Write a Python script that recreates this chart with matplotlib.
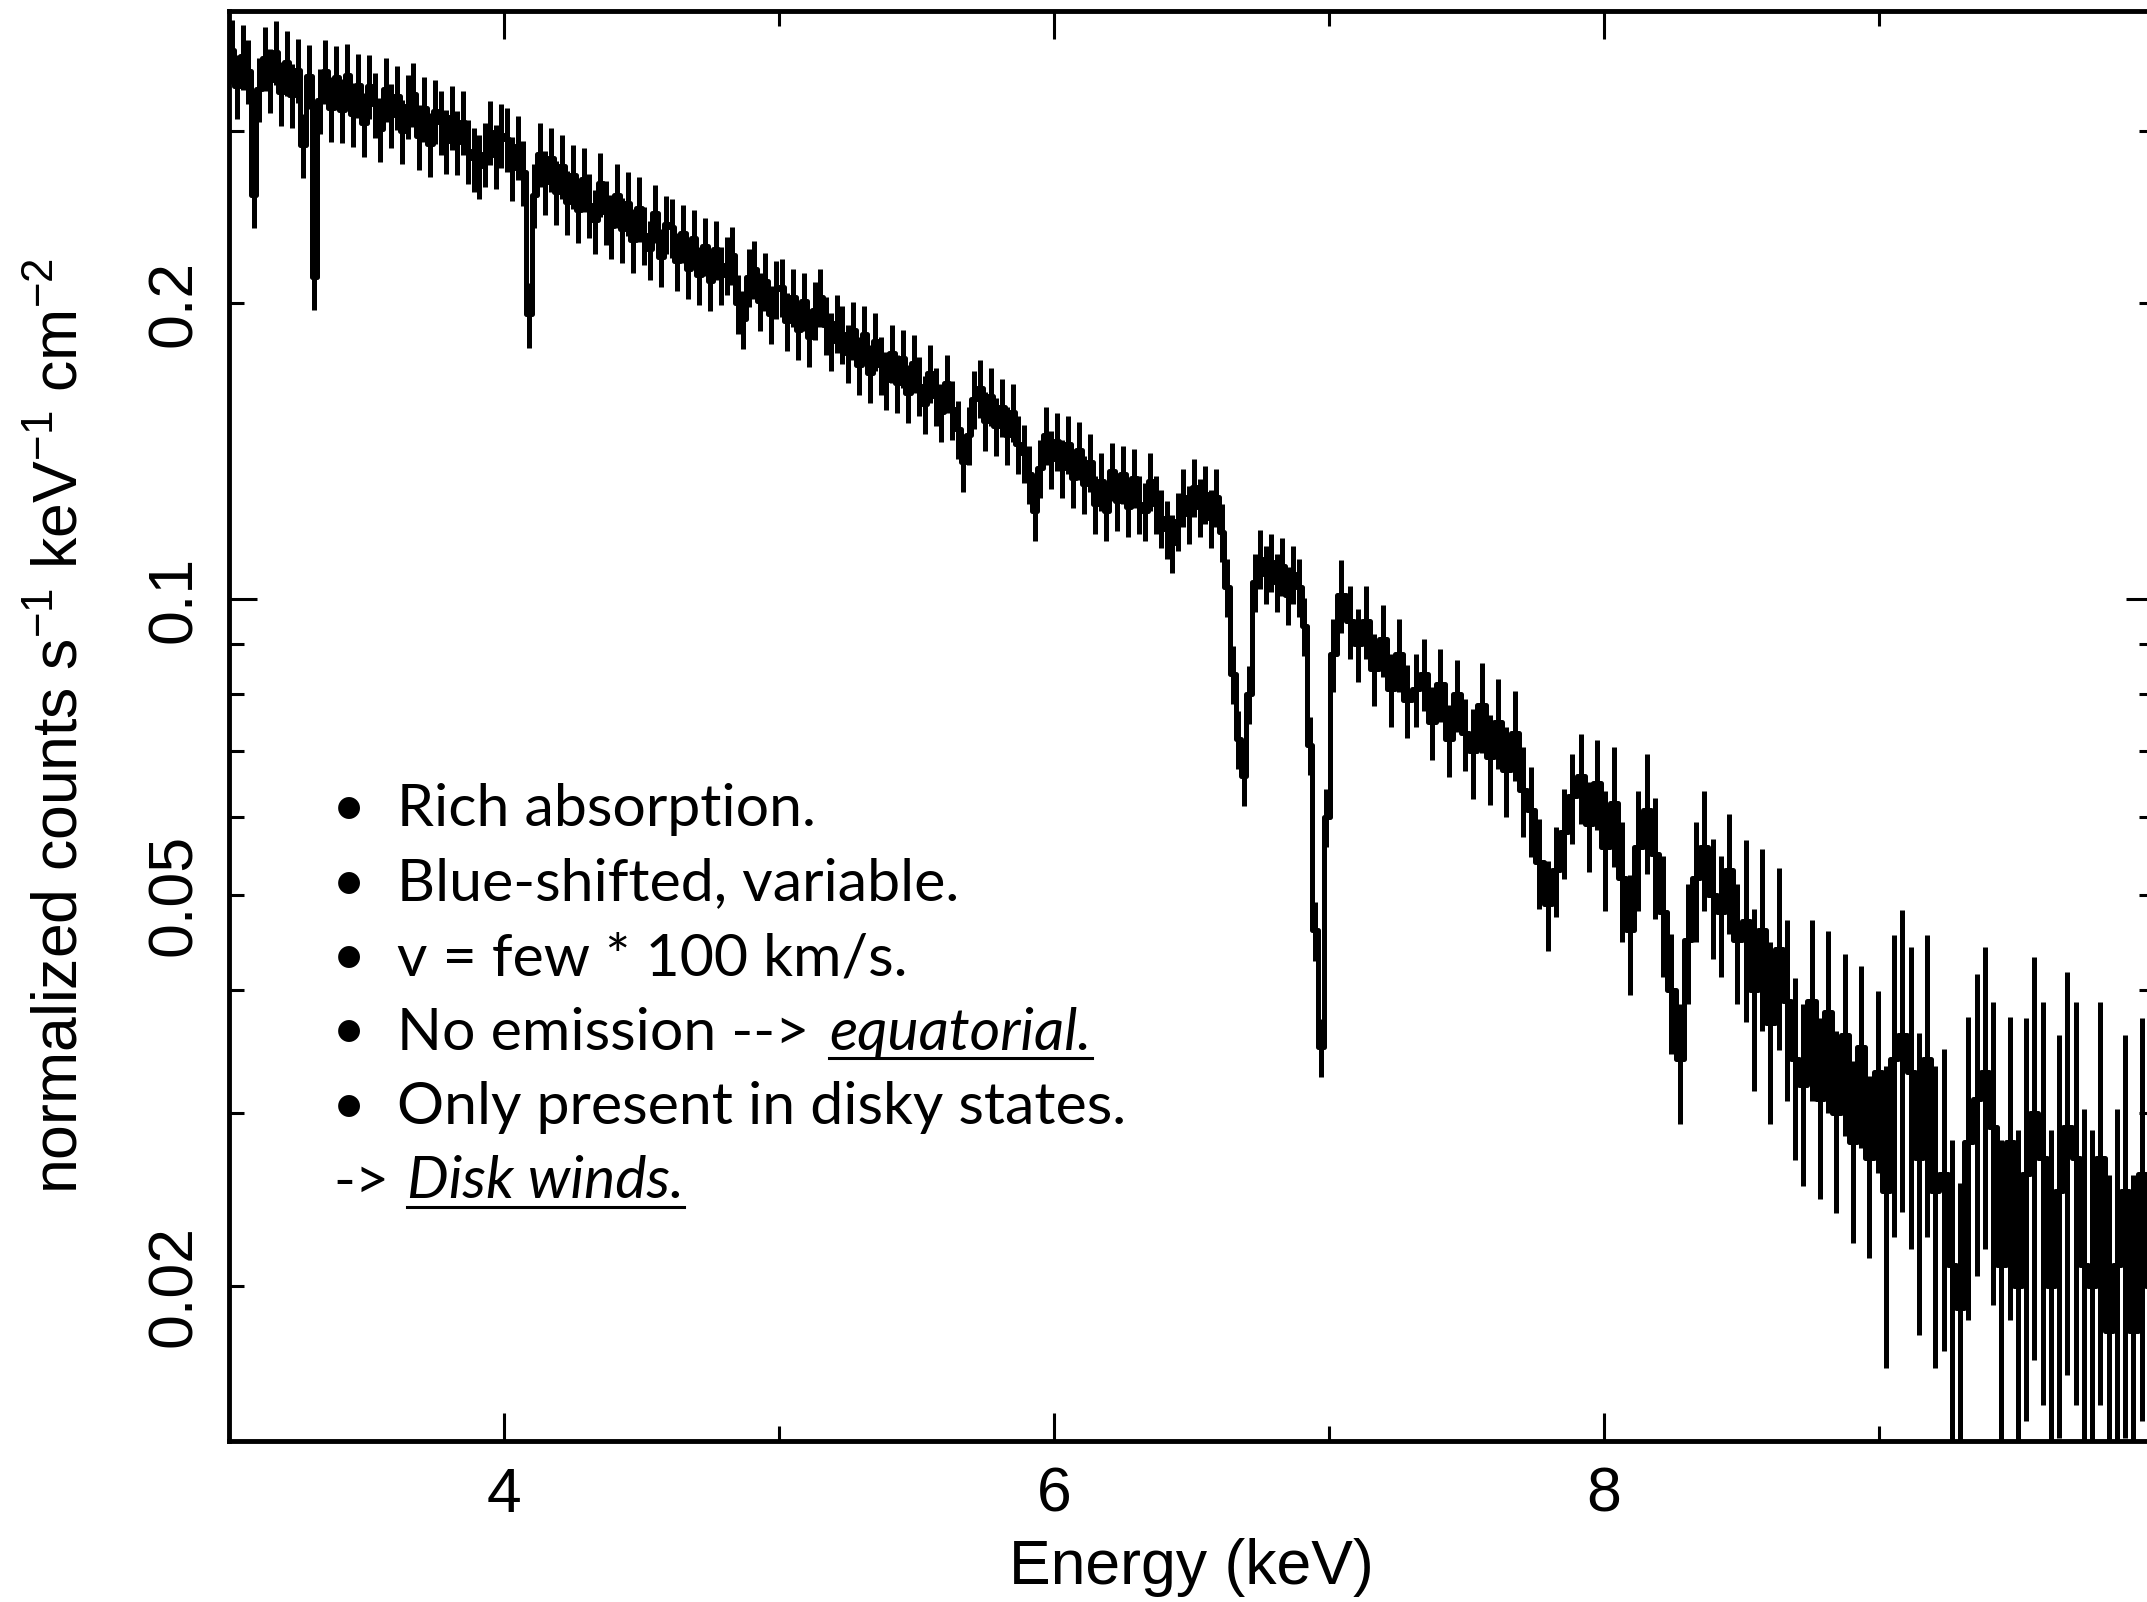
import numpy as np
import matplotlib
matplotlib.use("Agg")
import matplotlib.pyplot as plt
from matplotlib.lines import Line2D

plt.rcParams["font.family"] = ["Liberation Sans", "DejaVu Sans"]
plt.rcParams["mathtext.fontset"] = "custom"
plt.rcParams["mathtext.rm"] = "Liberation Sans"
plt.rcParams["mathtext.it"] = "Liberation Sans:italic"

# ---- spectrum: 3-7 keV in 0.02 keV bins ----
energy_lo = np.linspace(3.01, 6.99, 200)
flux_lo = [
    0.362, 0.333, 0.357, 0.345, 0.258, 0.331, 0.356, 0.338, 0.361, 0.328,
    0.352, 0.326, 0.346, 0.290, 0.341, 0.213, 0.322, 0.345, 0.316, 0.340,
    0.315, 0.342, 0.312, 0.334, 0.305, 0.333, 0.319, 0.301, 0.331, 0.311,
    0.325, 0.300, 0.318, 0.327, 0.296, 0.316, 0.291, 0.314, 0.306, 0.293,
    0.310, 0.292, 0.306, 0.286, 0.281, 0.276, 0.284, 0.299, 0.283, 0.297,
    0.294, 0.275, 0.289, 0.272, 0.195, 0.258, 0.284, 0.266, 0.281, 0.260,
    0.276, 0.254, 0.270, 0.249, 0.268, 0.252, 0.243, 0.265, 0.248, 0.240,
    0.258, 0.238, 0.253, 0.232, 0.250, 0.235, 0.227, 0.247, 0.223, 0.241,
    0.239, 0.221, 0.236, 0.217, 0.233, 0.214, 0.229, 0.211, 0.227, 0.214,
    0.219, 0.224, 0.200, 0.193, 0.213, 0.217, 0.201, 0.211, 0.195, 0.207,
    0.208, 0.192, 0.203, 0.188, 0.201, 0.185, 0.197, 0.203, 0.190, 0.183,
    0.191, 0.186, 0.178, 0.188, 0.173, 0.186, 0.170, 0.183, 0.173, 0.167,
    0.178, 0.166, 0.176, 0.162, 0.174, 0.165, 0.158, 0.170, 0.161, 0.155,
    0.166, 0.156, 0.149, 0.138, 0.147, 0.160, 0.164, 0.152, 0.161, 0.150,
    0.157, 0.147, 0.155, 0.144, 0.141, 0.134, 0.123, 0.136, 0.147, 0.139,
    0.145, 0.136, 0.144, 0.133, 0.142, 0.131, 0.138, 0.125, 0.132, 0.123,
    0.135, 0.126, 0.134, 0.124, 0.133, 0.125, 0.123, 0.132, 0.125, 0.121,
    0.118, 0.114, 0.120, 0.127, 0.122, 0.130, 0.124, 0.128, 0.121, 0.127,
    0.117, 0.103, 0.084, 0.072, 0.066, 0.080, 0.104, 0.110, 0.106, 0.109,
    0.104, 0.108, 0.101, 0.106, 0.103, 0.094, 0.071, 0.046, 0.035, 0.060,
]

# ---- 7-10 keV in 0.03 keV bins ----
energy_hi = np.linspace(7.015, 9.985, 100)
flux_hi = [
    0.088, 0.101, 0.095, 0.090, 0.095, 0.085, 0.091, 0.081, 0.088, 0.079,
    0.081, 0.084, 0.075, 0.082, 0.072, 0.080, 0.073, 0.070, 0.078, 0.069,
    0.075, 0.067, 0.073, 0.064, 0.061, 0.054, 0.049, 0.053, 0.058, 0.063,
    0.066, 0.059, 0.065, 0.056, 0.062, 0.052, 0.046, 0.056, 0.061, 0.055,
    0.048, 0.040, 0.034, 0.045, 0.052, 0.056, 0.050, 0.048, 0.053, 0.045,
    0.047, 0.040, 0.046, 0.037, 0.044, 0.039, 0.034, 0.032, 0.039, 0.031,
    0.038, 0.030, 0.036, 0.028, 0.035, 0.027, 0.033, 0.025, 0.034, 0.036,
    0.033, 0.027, 0.034, 0.025, 0.026, 0.021, 0.019, 0.028, 0.031, 0.033,
    0.029, 0.021, 0.028, 0.020, 0.026, 0.030, 0.027, 0.020, 0.025, 0.029,
    0.027, 0.021, 0.020, 0.027, 0.018, 0.021, 0.025, 0.018, 0.026, 0.020,
]

# fractional 1-sigma error, per 0.5 keV chunk starting at each edge
err_edges = [3.0, 3.5, 4.0, 4.5, 5.0, 5.5, 6.0, 6.5, 7.0, 7.5, 8.0, 8.5, 9.0, 9.5]
err_frac = [0.075, 0.075, 0.075, 0.068, 0.068, 0.068, 0.068, 0.068,
            0.085, 0.105, 0.140, 0.210, 0.340, 0.440]

notes = [
    "Rich absorption.",
    "Blue-shifted, variable.",
    "v = few * 100 km/s.",
    "No emission -->",
    "Only present in disky states.",
]
note_emph = {3: "equatorial."}
conclusion = ("->", "Disk winds.")

energy = np.concatenate([energy_lo, energy_hi])
flux = np.array(flux_lo + flux_hi)
chunk = np.searchsorted(err_edges, energy, side="right") - 1
flux_err = flux * np.array(err_frac)[chunk]

W, H = 2147, 1602
fig = plt.figure(figsize=(W / 100, H / 100), dpi=100)
fig.patch.set_facecolor("white")

# axes box in pixels: x 3 keV at 229, 10 keV at 2154 (just off the right edge)
ax = fig.add_axes([229 / W, 1 - 1441 / H, (2154 - 229) / W, (1441 - 11) / H])

ax.step(energy, flux, where="mid", color="k", lw=3.6)
ax.errorbar(energy, flux, yerr=flux_err, fmt="none", ecolor="k",
            elinewidth=3.6, capsize=0)

ax.set_xlim(3, 10)
ax.set_yscale("log")
ax.set_ylim(0.0139, 0.397)

ax.set_xticks([4, 6, 8, 10], ["4", "6", "8", ""])
ax.set_xticks([5, 7, 9], minor=True)
ax.set_yticks([0.1], ["0.1"], rotation=90, va="center")
ax.set_yticks([0.02, 0.03, 0.04, 0.05, 0.06, 0.07, 0.08, 0.09, 0.2, 0.3],
              ["0.02", "", "", "0.05", "", "", "", "", "0.2", ""],
              minor=True, rotation=90, va="center")

ax.tick_params(which="both", direction="in", top=True, right=True,
               width=2.2, labelsize=45, color="k")
ax.tick_params(which="major", length=20)
ax.tick_params(which="minor", length=11)
ax.tick_params(axis="x", which="both", pad=18)
ax.tick_params(axis="y", which="both", pad=18)

for sp in ax.spines.values():
    sp.set_linewidth(3.5)

ax.set_xlabel("Energy (keV)", fontsize=45, va="top")
ax.xaxis.set_label_coords(0.5, -0.068)
ax.set_ylabel(r"normalized counts s$^{-1}$ keV$^{-1}$ cm$^{-2}$", fontsize=45)
ax.yaxis.set_label_coords(-0.072, 0.5)

# ---- bullet notes ----
def fxy(x, y):
    return x / W, 1 - y / H

note_font = dict(family="Lato", fontsize=42.5, color="k", va="baseline")
baselines = [826, 900.5, 975, 1049.5, 1124, 1198.5]

emph_texts = []
for i, line in enumerate(notes):
    y = baselines[i]
    fig.text(*fxy(332, y), "\u2022", **note_font)
    t = fig.text(*fxy(397, y), line, **note_font)
    if i in note_emph:
        emph_texts.append((t, note_emph[i], y, 20))

y = baselines[-1]
t_pre = fig.text(*fxy(333, y), conclusion[0], **note_font)
emph_texts.append((t_pre, conclusion[1], y, 18))

fig.canvas.draw()
renderer = fig.canvas.get_renderer()
for t, word, y, gap in emph_texts:
    bb = t.get_window_extent(renderer)
    x0 = bb.x1 + gap
    it = fig.text(x0 / W, 1 - y / H, word, style="italic", **note_font)
    ib = it.get_window_extent(renderer)
    uy = 1 - (y + 8) / H
    fig.add_artist(Line2D([ib.x0 / W, ib.x1 / W], [uy, uy],
                          transform=fig.transFigure, color="k", lw=2.2))

fig.savefig("out.png", dpi=100)
